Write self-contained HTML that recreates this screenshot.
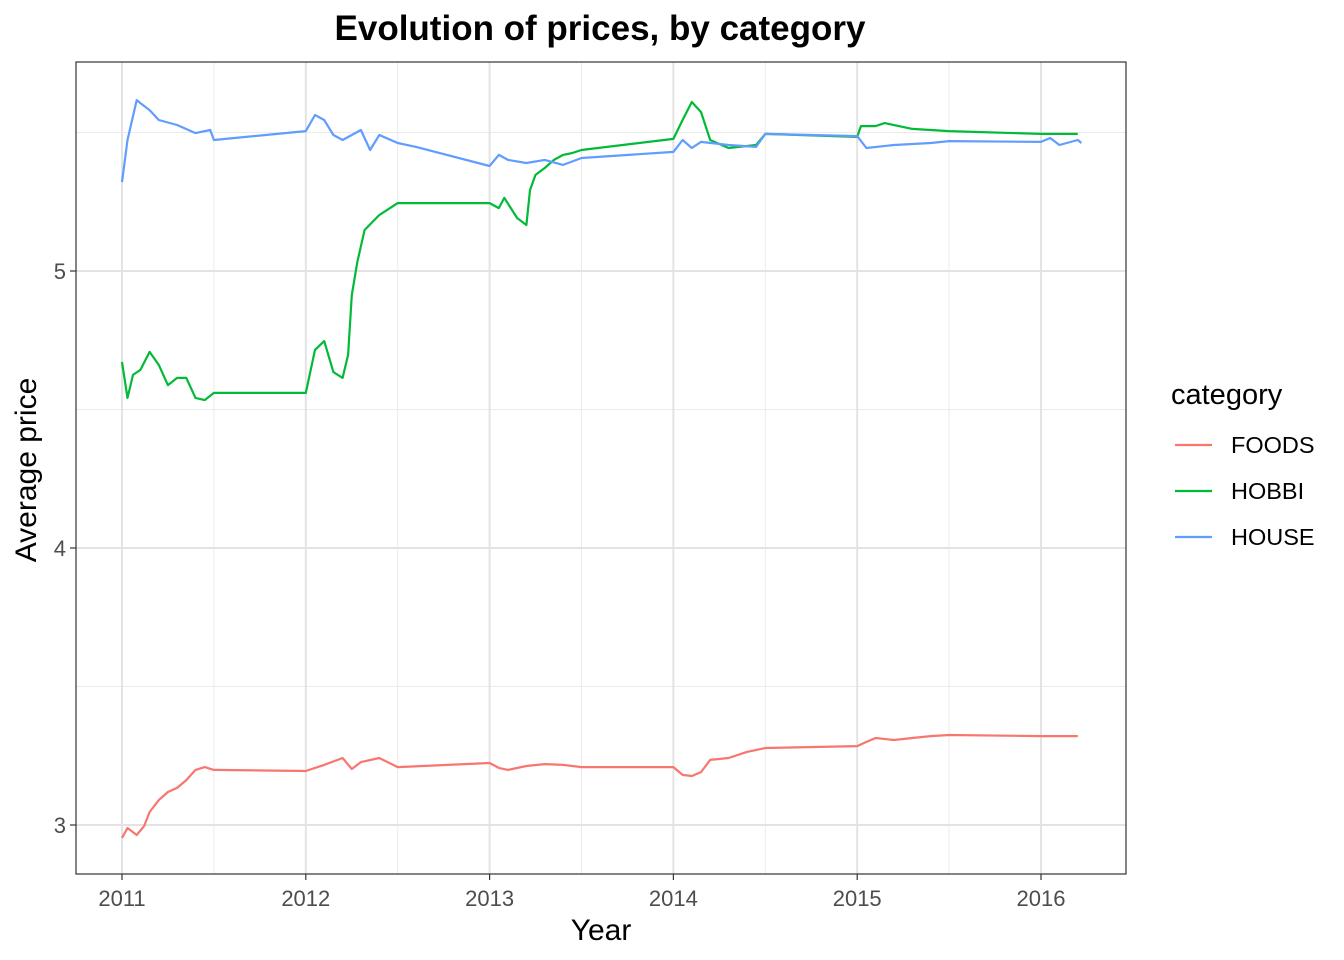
<!DOCTYPE html>
<html><head><meta charset="utf-8"><style>
html,body{margin:0;padding:0;background:#fff;}
svg{display:block;font-family:"Liberation Sans",Arial,sans-serif;}
</style></head><body>
<svg id="chart" width="1344" height="960">
<rect width="1344" height="960" fill="#fff"/>
<g id="grid"></g>
<g id="series"></g>
<rect x="76" y="62" width="1050" height="812" fill="none" stroke="#333" stroke-width="1.2"/>
<g id="axes"></g>
<text x="600" y="40" text-anchor="middle" font-size="35" font-weight="bold" fill="#000">Evolution of prices, by category</text>
<text x="601" y="940" text-anchor="middle" font-size="30" fill="#000">Year</text>
<text transform="translate(36,470) rotate(-90)" text-anchor="middle" font-size="30" fill="#000">Average price</text>
<g id="legend"></g>
</svg>
<script>
const categories = ["FOODS","HOBBI","HOUSE"];
const colors = ["#F8766D","#00BA38","#619CFF"];
const xTicks = [2011,2012,2013,2014,2015,2016];
const yTicks = [3,4,5];
const foodsX = [2011.0,2011.03,2011.08,2011.12,2011.15,2011.2,2011.25,2011.3,2011.35,2011.4,2011.45,2011.5,2012.0,2012.05,2012.1,2012.2,2012.25,2012.3,2012.4,2012.5,2013.0,2013.05,2013.1,2013.2,2013.3,2013.4,2013.5,2014.0,2014.05,2014.1,2014.15,2014.2,2014.3,2014.4,2014.5,2015.0,2015.05,2015.1,2015.2,2015.3,2015.4,2015.5,2016.0,2016.2];
const foodsY = [2.953,2.989,2.964,2.996,3.047,3.090,3.119,3.134,3.162,3.199,3.209,3.199,3.195,3.206,3.217,3.242,3.202,3.227,3.242,3.209,3.224,3.206,3.199,3.213,3.220,3.217,3.209,3.209,3.181,3.177,3.191,3.235,3.242,3.264,3.278,3.285,3.300,3.314,3.307,3.314,3.321,3.325,3.321,3.321];
const hobbiX = [2011.0,2011.03,2011.06,2011.1,2011.15,2011.2,2011.25,2011.3,2011.35,2011.4,2011.45,2011.5,2012.0,2012.05,2012.1,2012.15,2012.2,2012.23,2012.25,2012.28,2012.32,2012.4,2012.5,2013.0,2013.05,2013.08,2013.15,2013.2,2013.22,2013.25,2013.3,2013.35,2013.4,2013.45,2013.5,2014.0,2014.05,2014.1,2014.15,2014.2,2014.3,2014.45,2014.5,2015.0,2015.02,2015.1,2015.15,2015.3,2015.5,2016.0,2016.2];
const hobbiY = [4.671,4.542,4.625,4.643,4.708,4.661,4.588,4.614,4.614,4.542,4.534,4.560,4.560,4.715,4.747,4.635,4.614,4.697,4.913,5.032,5.148,5.202,5.245,5.245,5.227,5.264,5.191,5.166,5.292,5.347,5.372,5.401,5.419,5.426,5.437,5.477,5.545,5.610,5.574,5.473,5.444,5.455,5.495,5.484,5.523,5.523,5.534,5.513,5.505,5.495,5.495];
const houseX = [2011.0,2011.03,2011.08,2011.1,2011.15,2011.2,2011.3,2011.4,2011.48,2011.5,2012.0,2012.05,2012.1,2012.15,2012.2,2012.3,2012.35,2012.4,2012.5,2012.6,2013.0,2013.05,2013.1,2013.2,2013.3,2013.4,2013.5,2014.0,2014.05,2014.1,2014.15,2014.3,2014.45,2014.5,2015.0,2015.05,2015.2,2015.4,2015.5,2016.0,2016.05,2016.1,2016.2,2016.22];
const houseY = [5.321,5.473,5.617,5.606,5.581,5.545,5.527,5.498,5.509,5.473,5.505,5.563,5.545,5.491,5.473,5.509,5.437,5.491,5.462,5.448,5.379,5.419,5.401,5.390,5.401,5.383,5.408,5.430,5.473,5.444,5.466,5.455,5.448,5.495,5.487,5.444,5.455,5.462,5.469,5.466,5.480,5.455,5.473,5.462];
const seriesX = [foodsX,hobbiX,houseX];
const seriesY = [foodsY,hobbiY,houseY];

const NS="http://www.w3.org/2000/svg";
const L=76,R=1126,T=62,B=874;
function xs(v){return 122+(v-2011)*183.8;}
function ys(v){return 825-(v-3)*277;}
function mk(tag,attrs,parent){const e=document.createElementNS(NS,tag);for(const k in attrs)e.setAttribute(k,attrs[k]);parent.appendChild(e);return e;}
const grid=document.getElementById('grid'),axes=document.getElementById('axes'),ser=document.getElementById('series'),leg=document.getElementById('legend');
for(let i=0;i<xTicks.length;i++){const v=xTicks[i]+0.5;if(xs(v)<R){const l=mk('line',{x1:xs(v),x2:xs(v),y1:T,y2:B,stroke:'#ebebeb','stroke-width':1},grid);

}}
for(let i=0;i<yTicks.length;i++){const v=yTicks[i]+0.5;const l=mk('line',{x1:L,x2:R,y1:ys(v),y2:ys(v),stroke:'#ebebeb','stroke-width':1},grid);

}
xTicks.forEach(t=>{const x=xs(t);
const g=mk('line',{x1:x,x2:x,y1:T,y2:B,stroke:'#e3e3e3','stroke-width':2},grid);


const tk=mk('line',{x1:x,x2:x,y1:B,y2:B+6,stroke:'#333','stroke-width':1.2},axes);


const tx=mk('text',{x:x,y:B+32,'text-anchor':'middle','font-size':22,fill:'#4d4d4d'},axes);tx.textContent=t;

});
yTicks.forEach(t=>{const y=ys(t);
const g=mk('line',{x1:L,x2:R,y1:y,y2:y,stroke:'#e3e3e3','stroke-width':2},grid);


const tk=mk('line',{x1:L-6,x2:L,y1:y,y2:y,stroke:'#333','stroke-width':1.2},axes);


const tx=mk('text',{x:L-10,y:y+8,'text-anchor':'end','font-size':22,fill:'#4d4d4d'},axes);tx.textContent=t;

});
categories.forEach((c,i)=>{
const pts=seriesX[i].map((x,j)=>xs(x).toFixed(1)+','+ys(seriesY[i][j]).toFixed(1)).join(' ');
const p=mk('polyline',{points:pts,fill:'none',stroke:colors[i],'stroke-width':2.2,'stroke-linejoin':'round'},ser);


const y=445+i*46;
const kl=mk('line',{x1:1175,x2:1212,y1:y,y2:y,stroke:colors[i],'stroke-width':2.2},leg);


const t=mk('text',{x:1231,y:y+8,'font-size':23.5,fill:'#000'},leg);t.textContent=c;

});
const lt=mk('text',{x:1171,y:404,'font-size':29,fill:'#000'},leg);lt.textContent='category';


</script>
</body></html>
